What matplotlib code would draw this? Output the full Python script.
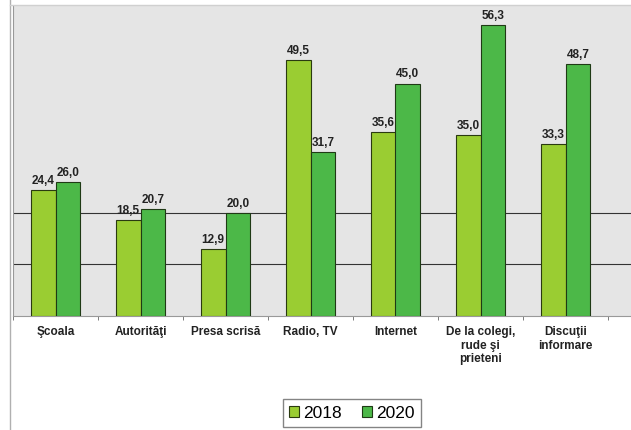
import matplotlib.pyplot as plt
import numpy as np

plt.rcParams['font.family'] = ['Liberation Sans', 'DejaVu Sans']

# categories and values
categories = ['Şcoala', 'Autorităţi', 'Presa scrisă', 'Radio, TV', 'Internet',
              'De la colegi,\nrude şi\nprieteni', 'Discuţii\ninformare']
val_2018 = [24.4, 18.5, 12.9, 49.5, 35.6, 35.0, 33.3]
val_2020 = [26.0, 20.7, 20.0, 31.7, 45.0, 56.3, 48.7]
grid_vals = [10, 20]

c2018 = '#9acd32'
c2020 = '#4cb848'

fig = plt.figure(figsize=(6.31, 4.30), dpi=100)
fig.patch.set_facecolor('white')

# frame lines of the original chart area
fig.add_artist(plt.Line2D([10/631, 10/631], [0, 1], color='#b0b0b0', lw=1))
fig.add_artist(plt.Line2D([10/631, 1], [1 - 5/430, 1 - 5/430], color='#d0d0d0', lw=1))

ax = fig.add_axes([13/631, 114/430, 618/631, 310/430])
ax.set_facecolor('#e5e5e5')

x = np.arange(len(categories))
w = 0.29
b1 = ax.bar(x - w/2, val_2018, w, color=c2018, edgecolor='#2a3a10', lw=0.8, label='2018', zorder=3)
b2 = ax.bar(x + w/2, val_2020, w, color=c2020, edgecolor='#1f3a15', lw=0.8, label='2020', zorder=3)

for bars, vals in ((b1, val_2018), (b2, val_2020)):
    for r, v in zip(bars, vals):
        ax.text(r.get_x() + r.get_width()/2, v + 0.6, f'{v:.1f}'.replace('.', ','),
                ha='center', va='bottom', fontsize=8.5, fontweight='bold', color='#222222', zorder=4)

for g in grid_vals:
    ax.axhline(g, color='#333333', lw=0.8, zorder=2)

ax.set_ylim(0, 60)
ax.set_xlim(-0.5, (631 - 13) / 85 - 0.5)
ax.set_yticks([])
ax.set_xticks(x)
ax.set_xticklabels(categories, fontsize=8.5, fontweight='bold', color='#222222')
ax.tick_params(axis='x', length=0, pad=7)
ax.set_xticks(np.arange(len(categories) + 1) - 0.5, minor=True)
ax.tick_params(axis='x', which='minor', length=3, color='#666666')

for s in ['top', 'right']:
    ax.spines[s].set_visible(False)
ax.spines['left'].set_color('#999999')
ax.spines['bottom'].set_color('#999999')

fig.legend(handles=[b1, b2], loc='center', bbox_to_anchor=(352/631, 1 - 413/430),
           ncol=2, fontsize=12.5, frameon=True, fancybox=False, edgecolor='#666666',
           handlelength=0.55, handleheight=0.55, handletextpad=0.25, columnspacing=1.2,
           borderpad=0.35, borderaxespad=0)

fig.savefig('out.png', dpi=100)
